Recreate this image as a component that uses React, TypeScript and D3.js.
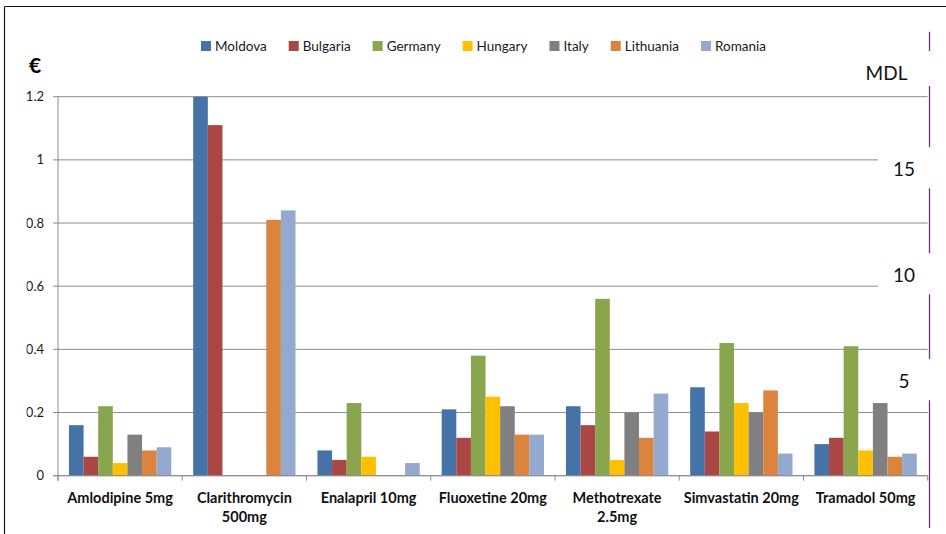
import React from "react";
import * as d3 from "d3";

const categories = [
  "Amlodipine 5mg",
  "Clarithromycin\n500mg",
  "Enalapril  10mg",
  "Fluoxetine 20mg",
  "Methotrexate\n2.5mg",
  "Simvastatin 20mg",
  "Tramadol 50mg",
];
const seriesNames = ["Moldova", "Bulgaria", "Germany", "Hungary", "Italy", "Lithuania", "Romania"];
const moldova = [0.16, 1.2, 0.08, 0.21, 0.22, 0.28, 0.1];
const bulgaria = [0.06, 1.11, 0.05, 0.12, 0.16, 0.14, 0.12];
const germany = [0.22, 0, 0.23, 0.38, 0.56, 0.42, 0.41];
const hungary = [0.04, 0, 0.06, 0.25, 0.05, 0.23, 0.08];
const italy = [0.13, 0, 0, 0.22, 0.2, 0.2, 0.23];
const lithuania = [0.08, 0.81, 0, 0.13, 0.12, 0.27, 0.06];
const romania = [0.09, 0.84, 0.04, 0.13, 0.26, 0.07, 0.07];
const seriesValues = [moldova, bulgaria, germany, hungary, italy, lithuania, romania];
const seriesColors = ["#4572A7", "#AA4643", "#89A54E", "#FFC000", "#808080", "#DB843D", "#93A9CF"];
const yTickValues = [0, 0.2, 0.4, 0.6, 0.8, 1, 1.2];
const yTickLabels = ["0", "0.2", "0.4", "0.6", "0.8", "1", "1.2"];
const mdlTicks = [15, 10, 5];
const MDL_PER_EUR = 14.9;

const FONT = "Lato, 'Open Sans', sans-serif";

let _ctx: CanvasRenderingContext2D | null = null;
function measure(text: string, font: string): number {
  if (!_ctx) _ctx = document.createElement("canvas").getContext("2d");
  if (!_ctx) return text.length * 7;
  _ctx.font = font;
  return _ctx.measureText(text).width;
}

export default function App() {
  const W = 946;
  const H = 534;
  const left = 58;
  const right = 927.7;
  const top = 96.7;
  const bottom = 475.7;

  const x0 = d3.scaleBand<string>().domain(categories).range([left, right]).paddingInner(0).paddingOuter(0);
  const x1 = d3
    .scaleBand<string>()
    .domain(seriesNames)
    .range([0, x0.bandwidth()])
    .paddingInner(0)
    .paddingOuter(0.75);
  const y = d3.scaleLinear().domain([0, 1.2]).range([bottom, top]);

  // legend layout
  const legFontSize = 13.5;
  const legFont = `${legFontSize}px Lato`;
  const sw = 10;
  const swGap = 4;
  const legStart = 201;
  const legEnd = 766;
  const widths = seriesNames.map((s) => sw + swGap + measure(s, legFont));
  const totalW = widths.reduce((a, b) => a + b, 0);
  const spacing = (legEnd - legStart - totalW) / (seriesNames.length - 1);
  const legX: number[] = [];
  let acc = legStart;
  widths.forEach((w) => {
    legX.push(acc);
    acc += w + spacing;
  });
  const legY = 46;

  const gridColor = "#8c8c8c";
  const mdlX = 904;
  const mdlY = (v: number) => y(v / MDL_PER_EUR) + 18.5;
  const boundaries = d3.range(categories.length + 1).map((i) =>
    i < categories.length ? (x0(categories[i]) as number) : right
  );

  return (
    <svg
      width={W}
      height={H}
      viewBox={`0 0 ${W} ${H}`}
      style={{ position: "absolute", left: 0, top: 0, background: "#fff" }}
      fontFamily={FONT}
    >
      <defs>
        <clipPath id="yclip">
          <rect x={26.5} y={0} width={40} height={H} />
        </clipPath>
      </defs>
      <rect x={0} y={0} width={W} height={H} fill="#fff" />
      {/* outer frame */}
      <line x1={4.5} y1={6.5} x2={W} y2={6.5} stroke="#1a1a1a" strokeWidth={1.2} />
      <line x1={4.5} y1={6.5} x2={4.5} y2={H} stroke="#1a1a1a" strokeWidth={1.2} />

      {/* gridlines */}
      {yTickValues.map((v) => (
        <line key={"g" + v} x1={left} x2={right} y1={y(v)} y2={y(v)} stroke={gridColor} strokeWidth={1} />
      ))}

      {/* bars */}
      {categories.map((c, ci) => (
        <g key={c} transform={`translate(${x0(c)},0)`}>
          {seriesNames.map((s, si) => {
            const v = seriesValues[si][ci];
            if (!v) return null;
            return (
              <rect
                key={s}
                x={x1(s)}
                y={y(v)}
                width={x1.bandwidth()}
                height={y(0) - y(v)}
                fill={seriesColors[si]}
              />
            );
          })}
        </g>
      ))}

      {/* axes */}
      <line x1={left} x2={left} y1={top} y2={bottom + 5} stroke={gridColor} strokeWidth={1} />
      <line x1={left - 5} x2={right} y1={bottom} y2={bottom} stroke={gridColor} strokeWidth={1} />
      {yTickValues.map((v) => (
        <line key={"t" + v} x1={left - 5} x2={left} y1={y(v)} y2={y(v)} stroke={gridColor} strokeWidth={1} />
      ))}
      {boundaries.map((bx, i) => (
        <line key={"b" + i} x1={bx} x2={bx} y1={bottom} y2={bottom + 5} stroke={gridColor} strokeWidth={1} />
      ))}

      {/* y tick labels */}
      <g clipPath="url(#yclip)">
        {yTickValues.map((v, i) => (
          <text
            key={"l" + v}
            x={44}
            y={y(v)}
            dy="0.35em"
            textAnchor="end"
            fontSize={13}
            fill="#1a1a1a"
          >
            {yTickLabels[i]}
          </text>
        ))}
      </g>

      {/* category labels */}
      {categories.map((c) => {
        const lines = c.split("\n");
        const cx = (x0(c) as number) + x0.bandwidth() / 2;
        return (
          <text key={"c" + c} x={cx} textAnchor="middle" fontSize={14.5} fontWeight="bold" fill="#111">
            {lines.map((ln, li) => (
              <tspan key={li} x={cx} y={503 + li * 19}>
                {ln}
              </tspan>
            ))}
          </text>
        );
      })}

      {/* secondary MDL axis line */}
      <line x1={929.5} x2={929.5} y1={31.7} y2={528} stroke="#7A2F86" strokeWidth={1.3} />
      {/* text boxes of MDL labels */}
      <rect x={878} y={80 - 29} width={W - 878} height={35} fill="#fff" />
      {mdlTicks.map((m) => (
        <rect key={"wb" + m} x={878} y={mdlY(m) - 29} width={W - 878} height={41} fill="#fff" />
      ))}
      <text x={886.5} y={80} textAnchor="middle" fontSize={19} fill="#111">
        MDL
      </text>
      {mdlTicks.map((m) => (
        <text key={"m" + m} x={mdlX} y={mdlY(m)} textAnchor="middle" fontSize={19} fill="#111">
          {m}
        </text>
      ))}

      {/* euro sign */}
      <text x={35} y={73} textAnchor="middle" fontSize={21} fontWeight="bold" fill="#000">
        €
      </text>

      {/* legend */}
      {seriesNames.map((s, i) => (
        <g key={"leg" + s} transform={`translate(${legX[i]},${legY})`}>
          <rect x={0} y={-5} width={sw} height={sw} fill={seriesColors[i]} />
          <text x={sw + swGap} y={0} dy="0.35em" fontSize={legFontSize} fill="#1a1a1a">
            {s}
          </text>
        </g>
      ))}
    </svg>
  );
}
